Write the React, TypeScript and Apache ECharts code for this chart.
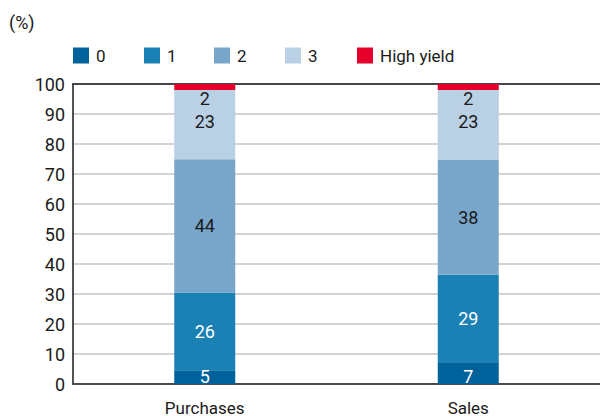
import React, { useEffect, useRef } from "react";
import * as echarts from "echarts";

const categories = ["Purchases", "Sales"];
const seriesNames = ["0", "1", "2", "3", "High yield"];
const rating0 = [4.6, 7];
const rating1 = [25.9, 29.4];
const rating2 = [44.4, 38.3];
const rating3 = [23.1, 23.3];
const highYield = [2, 2];
const yTicks = { min: 0, max: 100, interval: 10 };

const colors = ["#00629b", "#1b80b4", "#78a6ca", "#b9d0e5", "#e4002b"];
const labelColors = ["#ffffff", "#ffffff", "#1a1a1a", "#1a1a1a", "#1a1a1a"];
const legendLefts = [73, 144, 214, 285, 357];
const FONT = "Roboto, 'Liberation Sans', sans-serif";

export default function App() {
  const ref = useRef<HTMLDivElement>(null);
  useEffect(() => {
    if (!ref.current) return;
    const chart = echarts.init(ref.current, null, { renderer: "svg" });
    const data = [rating0, rating1, rating2, rating3, highYield];
    const positions: any[] = ["insideBottom", "inside", "inside", "inside", "bottom"];
    const offsets = [[0, 1], [0, 0], [0, 0], [0, -3], [0, -1]];
    chart.setOption({
      animation: false,
      textStyle: { fontFamily: FONT },
      title: {
        text: "(%)",
        left: 9,
        top: 13,
        padding: 0,
        textStyle: { fontFamily: FONT, fontSize: 18, fontWeight: "normal", color: "#1a1a1a" },
      },
      legend: seriesNames.map((name, i) => ({
        left: legendLefts[i],
        top: 47,
        padding: 0,
        itemWidth: 16,
        itemHeight: 16,
        icon: "rect",
        data: [name],
        textStyle: { fontFamily: FONT, fontSize: 17, color: "#1a1a1a", padding: [0, 0, 0, 2] },
      })),
      grid: { left: 73, right: 0, top: 84, bottom: 30, containLabel: false },
      xAxis: [
        {
          type: "category",
          data: categories,
          axisLine: { lineStyle: { color: "#4a4a4a", width: 2 } },
          axisTick: { show: false },
          axisLabel: { fontFamily: FONT, fontSize: 17, color: "#1a1a1a", margin: 15 },
        },
        {
          type: "category",
          data: categories,
          position: "top",
          axisLine: { lineStyle: { color: "#1a1a1a", width: 1.5 } },
          axisTick: { show: false },
          axisLabel: { show: false },
        },
      ],
      yAxis: {
        type: "value",
        min: yTicks.min,
        max: yTicks.max,
        interval: yTicks.interval,
        axisLine: { show: true, lineStyle: { color: "#1a1a1a", width: 1.5 } },
        axisTick: { show: false },
        axisLabel: { fontFamily: FONT, fontSize: 18, color: "#1a1a1a", margin: 8 },
        splitLine: { show: true, lineStyle: { color: "#c4c4c4", width: 1.5 } },
      },
      series: seriesNames.map((name, i) => ({
        name,
        type: "bar",
        stack: "total",
        barWidth: 61,
        data: data[i],
        itemStyle: { color: colors[i] },
        label: {
          show: true,
          position: positions[i],
          distance: 0,
          offset: offsets[i],
          fontFamily: FONT,
          fontSize: 18,
          color: labelColors[i],
          formatter: (p: any) => String(Math.round(p.value)),
        },
      })),
    });
    return () => chart.dispose();
  }, []);
  return (
    <div
      ref={ref}
      style={{ position: "fixed", left: 0, top: 0, width: 600, height: 416, background: "#fff" }}
    />
  );
}
